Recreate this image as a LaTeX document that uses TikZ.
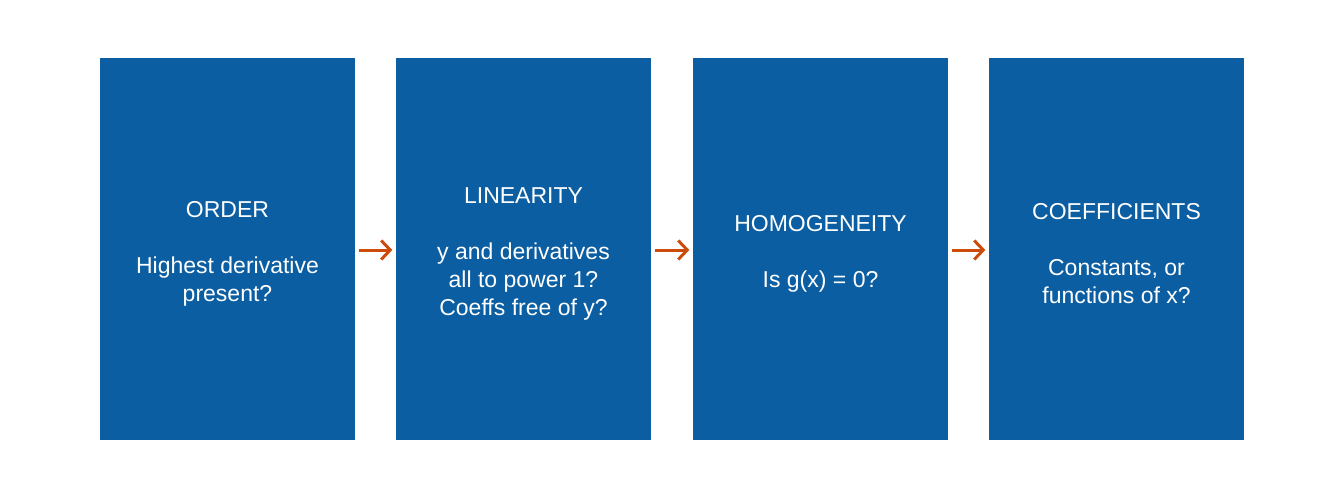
\documentclass[tikz,border=0pt]{standalone}
\usepackage{fontspec}
\setmainfont{Liberation Sans}
\usetikzlibrary{arrows.meta}
\definecolor{boxblue}{RGB}{11,94,161}
\definecolor{arrred}{RGB}{204,76,12}
\begin{document}
\begin{tikzpicture}[x=1pt,y=1pt,
  stagebox/.style={fill=boxblue, draw=none, minimum width=255pt, minimum height=382pt, inner sep=0pt},
  stagetext/.style={text=white, inner sep=0pt, align=center, font=\fontsize{23}{28}\selectfont},
  flowarrow/.style={draw=arrred, line width=3pt, -{Straight Barb[length=9pt,width=19pt,line width=3pt]},
    shorten <=4pt, shorten >=3.5pt}]
\useasboundingbox (0,0) rectangle (1344,499);
\node[stagebox] (b1) at (227.5,250) {};
\node[stagebox] (b2) at (523.5,250) {};
\node[stagebox] (b3) at (820.5,250) {};
\node[stagebox] (b4) at (1116.5,250) {};
\node[stagetext] (t1) at ([yshift=-4.5pt]b1.center) {ORDER\\[28pt]Highest derivative\\present?};
\node[stagetext] (t2) at ([yshift=-4.5pt]b2.center) {LINEARITY\\[28pt]y and derivatives\\all to power 1?\\Coeffs free of y?};
\node[stagetext] (t3) at ([yshift=-4.5pt]b3.center) {HOMOGENEITY\\[28pt]Is g(x) = 0?};
\node[stagetext] (t4) at ([yshift=-4.5pt]b4.center) {COEFFICIENTS\\[28pt]Constants, or\\functions of x?};
\draw[flowarrow] ([yshift=-1pt]b1.east) -- ([yshift=-1pt]b2.west);
\draw[flowarrow] ([yshift=-1pt]b2.east) -- ([yshift=-1pt]b3.west);
\draw[flowarrow] ([yshift=-1pt]b3.east) -- ([yshift=-1pt]b4.west);
\end{tikzpicture}
\end{document}
